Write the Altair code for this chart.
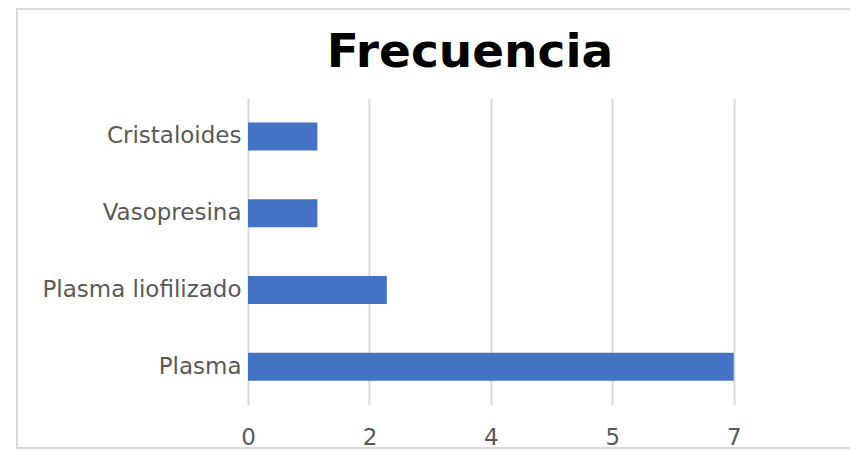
import altair as alt
import pandas as pd

categories = ["Cristaloides", "Vasopresina", "Plasma liofilizado", "Plasma"]
values = [1, 1, 2, 7]
tick_values = [0, 1.75, 3.5, 5.25, 7, 8.75]
title_text = "Frecuencia"

df = pd.DataFrame({"categoria": categories, "frecuencia": values})

FONT = "DejaVu Sans"

one = pd.DataFrame({"t": [title_text]})

border = alt.Chart(one).mark_rect(
    fill="white", fillOpacity=0, stroke="#d9d9d9", strokeWidth=2, clip=False
).encode(
    x=alt.value(-231), x2=alt.value(700), y=alt.value(-89), y2=alt.value(350)
)

title = alt.Chart(one).mark_text(
    font=FONT, fontSize=47, fontWeight="bold", color="#000000",
    align="center", baseline="alphabetic", clip=False
).encode(
    x=alt.value(222), y=alt.value(-31), text="t:N"
)

bars = alt.Chart(df).mark_bar(color="#4472C4", size=28).encode(
    x=alt.X(
        "frecuencia:Q",
        scale=alt.Scale(domain=[0, 8.675], nice=False, zero=True),
        axis=alt.Axis(
            values=tick_values,
            format=".0f",
            title=None,
            grid=True,
            gridColor="#d9d9d9",
            gridWidth=2,
            domain=False,
            ticks=False,
            labelFont=FONT,
            labelFontSize=23,
            labelColor="#595959",
            labelPadding=21,
            labelFlush=False,
        ),
    ),
    y=alt.Y(
        "categoria:N",
        sort=categories,
        scale=alt.Scale(paddingInner=0, paddingOuter=0),
        axis=alt.Axis(
            title=None,
            domain=False,
            ticks=False,
            grid=False,
            labelFont=FONT,
            labelFontSize=23,
            labelColor="#595959",
            labelPadding=7,
            labelLimit=400,
        ),
    ),
)

chart = alt.layer(border, title, bars).properties(
    width=602,
    height=307,
    background="white",
    autosize=alt.AutoSizeParams(type="none"),
    padding={"left": 240, "top": 90, "right": 0, "bottom": 44},
).configure_view(strokeWidth=0, stroke=None)

chart.save("out.html", embed_options={"renderer": "svg", "actions": False})
